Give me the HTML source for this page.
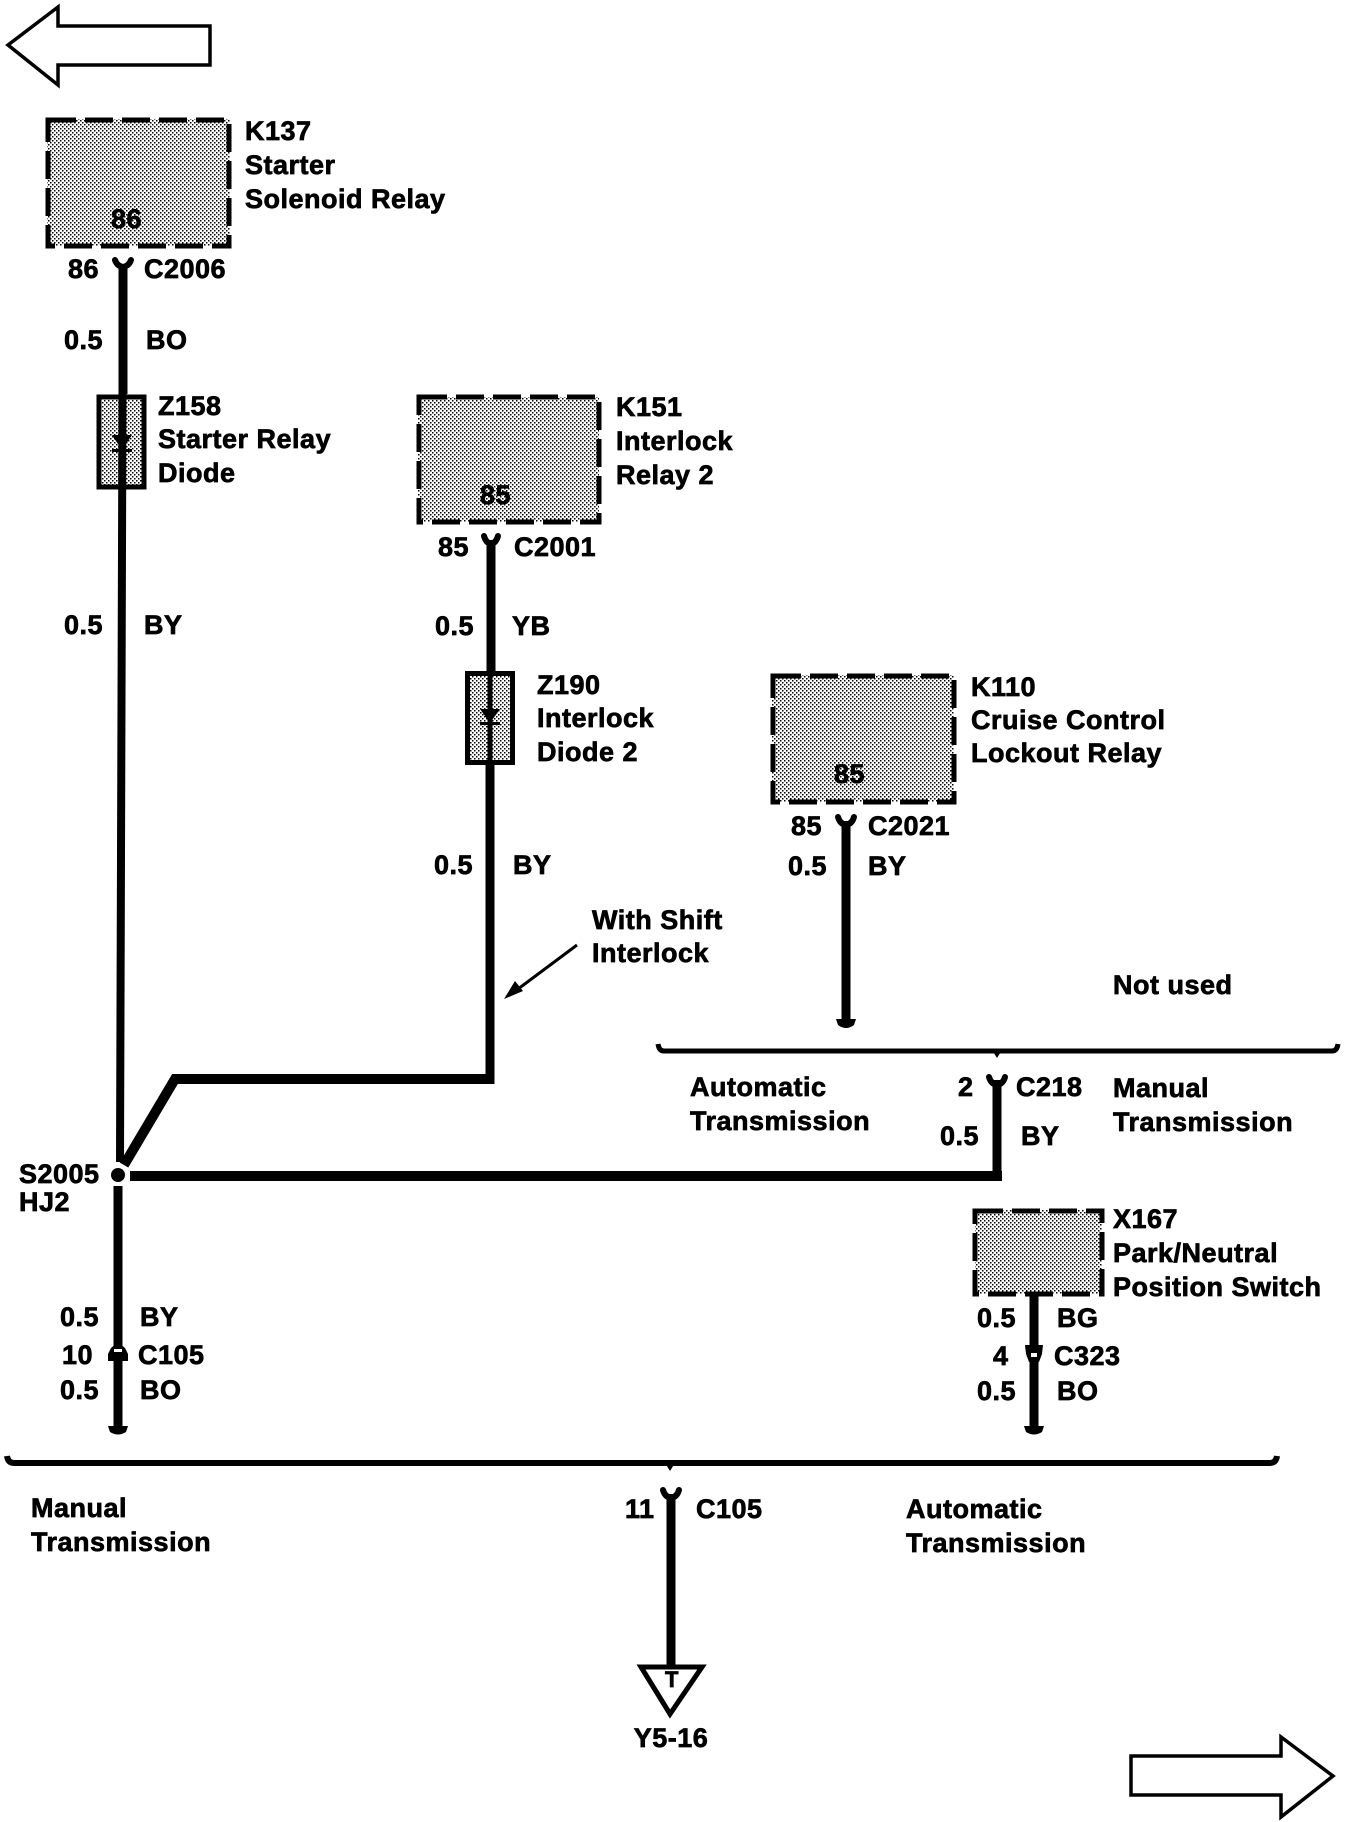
<!DOCTYPE html>
<html><head><meta charset="utf-8"><title>Wiring diagram</title>
<style>
html,body{margin:0;padding:0;background:#fff;width:1360px;height:1822px;overflow:hidden}
svg{display:block}
text{font-family:"Liberation Sans",Arial,sans-serif;font-weight:700;font-size:27px;fill:#000;stroke:#000;stroke-width:.7px;letter-spacing:.5px}
.w{fill:none;stroke:#000;stroke-width:9}
.box{fill:url(#d);stroke:none}
.dash{fill:none;stroke:#000;stroke-width:5;stroke-dasharray:28 9}
.sol{fill:url(#d);stroke:#000;stroke-width:5}
.hl{fill:none;stroke:#000;stroke-width:5}
.c{fill:none;stroke:#000;stroke-width:6;stroke-linecap:round}
</style></head><body>
<svg width="1360" height="1822" viewBox="0 0 1360 1822" xmlns="http://www.w3.org/2000/svg">
<defs>
<pattern id="d" width="4" height="4" patternUnits="userSpaceOnUse">
<rect width="4" height="4" fill="#fff"/>
<rect x="0" y="0" width="1.5" height="1.5" fill="#000"/>
<rect x="2" y="2" width="1.5" height="1.5" fill="#000"/>
</pattern>
</defs>
<rect width="1360" height="1822" fill="#fff"/>

<!-- page arrows -->
<polygon points="8,45 58,7 58,26 210,26 210,65 58,65 58,85" fill="#fff" stroke="#000" stroke-width="3.5"/>
<polygon points="1333,1776 1281,1737 1281,1756 1131,1756 1131,1795 1281,1795 1281,1817" fill="#fff" stroke="#000" stroke-width="3.5"/>

<!-- K137 -->
<rect class="box" x="47" y="119" width="183" height="127"/>
<rect class="dash" x="48" y="120" width="181" height="126"/>
<text x="245" y="140">K137</text><text x="245" y="174">Starter</text><text x="245" y="208">Solenoid Relay</text>
<text x="111" y="228">86</text>
<text x="68" y="278">86</text><text x="144" y="278">C2006</text>
<path class="c" d="M115,260 Q117,266 123,267 Q129,266 131,260"/>
<path class="w" d="M123,264 L123,394"/>
<text x="64" y="349">0.5</text><text x="146" y="349">BO</text>

<!-- Z158 -->
<rect class="sol" x="99" y="397" width="45" height="90"/>
<path d="M122.5,394 L120,1162" class="w" style="stroke-width:8"/>
<polygon points="112,435 132,435 122,450" fill="#000"/>
<rect x="112" y="449" width="20" height="3"/>
<text x="158" y="415">Z158</text><text x="158" y="448">Starter Relay</text><text x="158" y="482">Diode</text>
<text x="64" y="634">0.5</text><text x="144" y="634">BY</text>

<!-- K151 -->
<rect class="box" x="418" y="397" width="181" height="125"/>
<rect class="dash" x="419" y="397" width="180" height="125"/>
<text x="616" y="416">K151</text><text x="616" y="450">Interlock</text><text x="616" y="484">Relay 2</text>
<text x="480" y="504">85</text>
<text x="438" y="556">85</text><text x="514" y="556">C2001</text>
<path class="c" d="M484,536 Q486,543 491,544 Q496,543 498,536"/>
<path class="w" d="M491,540 L491,672"/>
<text x="435" y="635">0.5</text><text x="512" y="635">YB</text>

<!-- Z190 -->
<rect class="sol" x="467.5" y="673.5" width="45" height="89"/>
<path class="w" style="stroke-width:5" d="M490,672 L490,763"/>
<path class="w" d="M490,763 L490,1084"/>
<polygon points="480,709 500,709 490,723" fill="#000"/>
<rect x="480" y="722" width="20" height="3"/>
<text x="537" y="694">Z190</text><text x="537" y="727">Interlock</text><text x="537" y="761">Diode 2</text>
<text x="434" y="874">0.5</text><text x="513" y="874">BY</text>

<!-- With Shift Interlock -->
<text x="592" y="929">With Shift</text><text x="592" y="962">Interlock</text>
<path d="M577,945 L514,992" stroke="#000" stroke-width="3" fill="none"/>
<polygon points="504,999 523,991 515,981" fill="#000"/>

<!-- merged wires -->
<path class="w" style="stroke-width:10;stroke-linejoin:miter" d="M490,1079 L175,1079 L124,1165"/>
<path class="w" d="M494,1079 L490,1079"/>
<path class="w" style="stroke-width:10" d="M130,1176 L1002,1176"/>
<path class="w" d="M997,1080 L997,1180"/>
<circle cx="118" cy="1175" r="7"/>
<text x="19" y="1183">S2005</text><text x="19" y="1211">HJ2</text>

<!-- K110 -->
<rect class="box" x="772" y="675" width="182" height="127"/>
<rect class="dash" x="773" y="676" width="181" height="126"/>
<text x="971" y="696">K110</text><text x="971" y="729">Cruise Control</text><text x="971" y="762">Lockout Relay</text>
<text x="834" y="783">85</text>
<text x="791" y="835">85</text><text x="868" y="835">C2021</text>
<path class="c" d="M838,817 Q840,824 846,825 Q852,824 854,817"/>
<path class="w" d="M846,821 L846,1024"/>
<path d="M836,1019 L856,1019 L854,1025 Q846,1031 838,1025 Z" fill="#000"/>
<text x="788" y="875">0.5</text><text x="868" y="875">BY</text>

<text x="1113" y="994">Not used</text>
<path class="hl" d="M658,1044 Q659,1051 664,1051 L1332,1051 Q1337,1051 1338,1044"/>
<polygon points="992,1050 1002,1050 997,1058" fill="#000"/>
<text x="690" y="1096">Automatic</text><text x="690" y="1130">Transmission</text>
<text x="958" y="1096">2</text><text x="1016" y="1096">C218</text>
<text x="1113" y="1097">Manual</text><text x="1113" y="1131">Transmission</text>
<text x="940" y="1145">0.5</text><text x="1021" y="1145">BY</text>
<path class="c" d="M989,1077 Q991,1084 997,1085 Q1003,1084 1005,1077"/>

<!-- left lower wire -->
<path class="w" d="M118,1186 L118,1430"/>
<text x="60" y="1326">0.5</text><text x="140" y="1326">BY</text>
<text x="62" y="1364">10</text><text x="138" y="1364">C105</text>
<text x="60" y="1399">0.5</text><text x="140" y="1399">BO</text>
<path d="M108,1361 L128,1361 L128,1354 L125,1348 Q118,1341 111,1348 L108,1354 Z" fill="#000"/>
<rect x="114" y="1349" width="8" height="3" fill="#fff"/>
<path d="M108,1426 L128,1426 L126,1432 Q118,1437 110,1432 Z" fill="#000"/>

<!-- X167 -->
<rect class="box" x="975" y="1210" width="127" height="84"/>
<rect class="dash" x="975" y="1211" width="127" height="83"/>
<text x="1113" y="1228">X167</text><text x="1113" y="1262">Park/Neutral</text><text x="1113" y="1296">Position Switch</text>
<path class="w" d="M1034,1294 L1034,1430"/>
<text x="977" y="1327">0.5</text><text x="1057" y="1327">BG</text>
<text x="993" y="1365">4</text><text x="1054" y="1365">C323</text>
<text x="977" y="1400">0.5</text><text x="1057" y="1400">BO</text>
<path d="M1025,1345 L1043,1345 L1042,1354 L1039,1362 L1029,1362 L1026,1354 Z" fill="#000"/>
<rect x="1031" y="1353" width="6" height="4" fill="#fff"/>
<path d="M1024,1426 L1044,1426 L1042,1432 Q1034,1437 1026,1432 Z" fill="#000"/>

<!-- bottom bus -->
<path class="hl" style="stroke-width:6" d="M7,1456 Q8,1463 14,1463 L1270,1463 Q1276,1463 1277,1456"/>
<polygon points="665,1463 675,1463 670,1471" fill="#000"/>
<text x="31" y="1517">Manual</text><text x="31" y="1551">Transmission</text>
<text x="625" y="1518">11</text><text x="696" y="1518">C105</text>
<text x="906" y="1518">Automatic</text><text x="906" y="1552">Transmission</text>
<path class="c" d="M663,1490 Q665,1497 671,1498 Q677,1497 679,1490"/>
<path class="w" d="M671,1494 L671,1666"/>
<polygon points="641,1667 702,1667 670,1714" fill="#fff" stroke="#000" stroke-width="5"/>
<text x="672" y="1687" text-anchor="middle" style="font-size:22px">T</text>
<text x="671" y="1747" text-anchor="middle">Y5-16</text>
</svg>
</body></html>
